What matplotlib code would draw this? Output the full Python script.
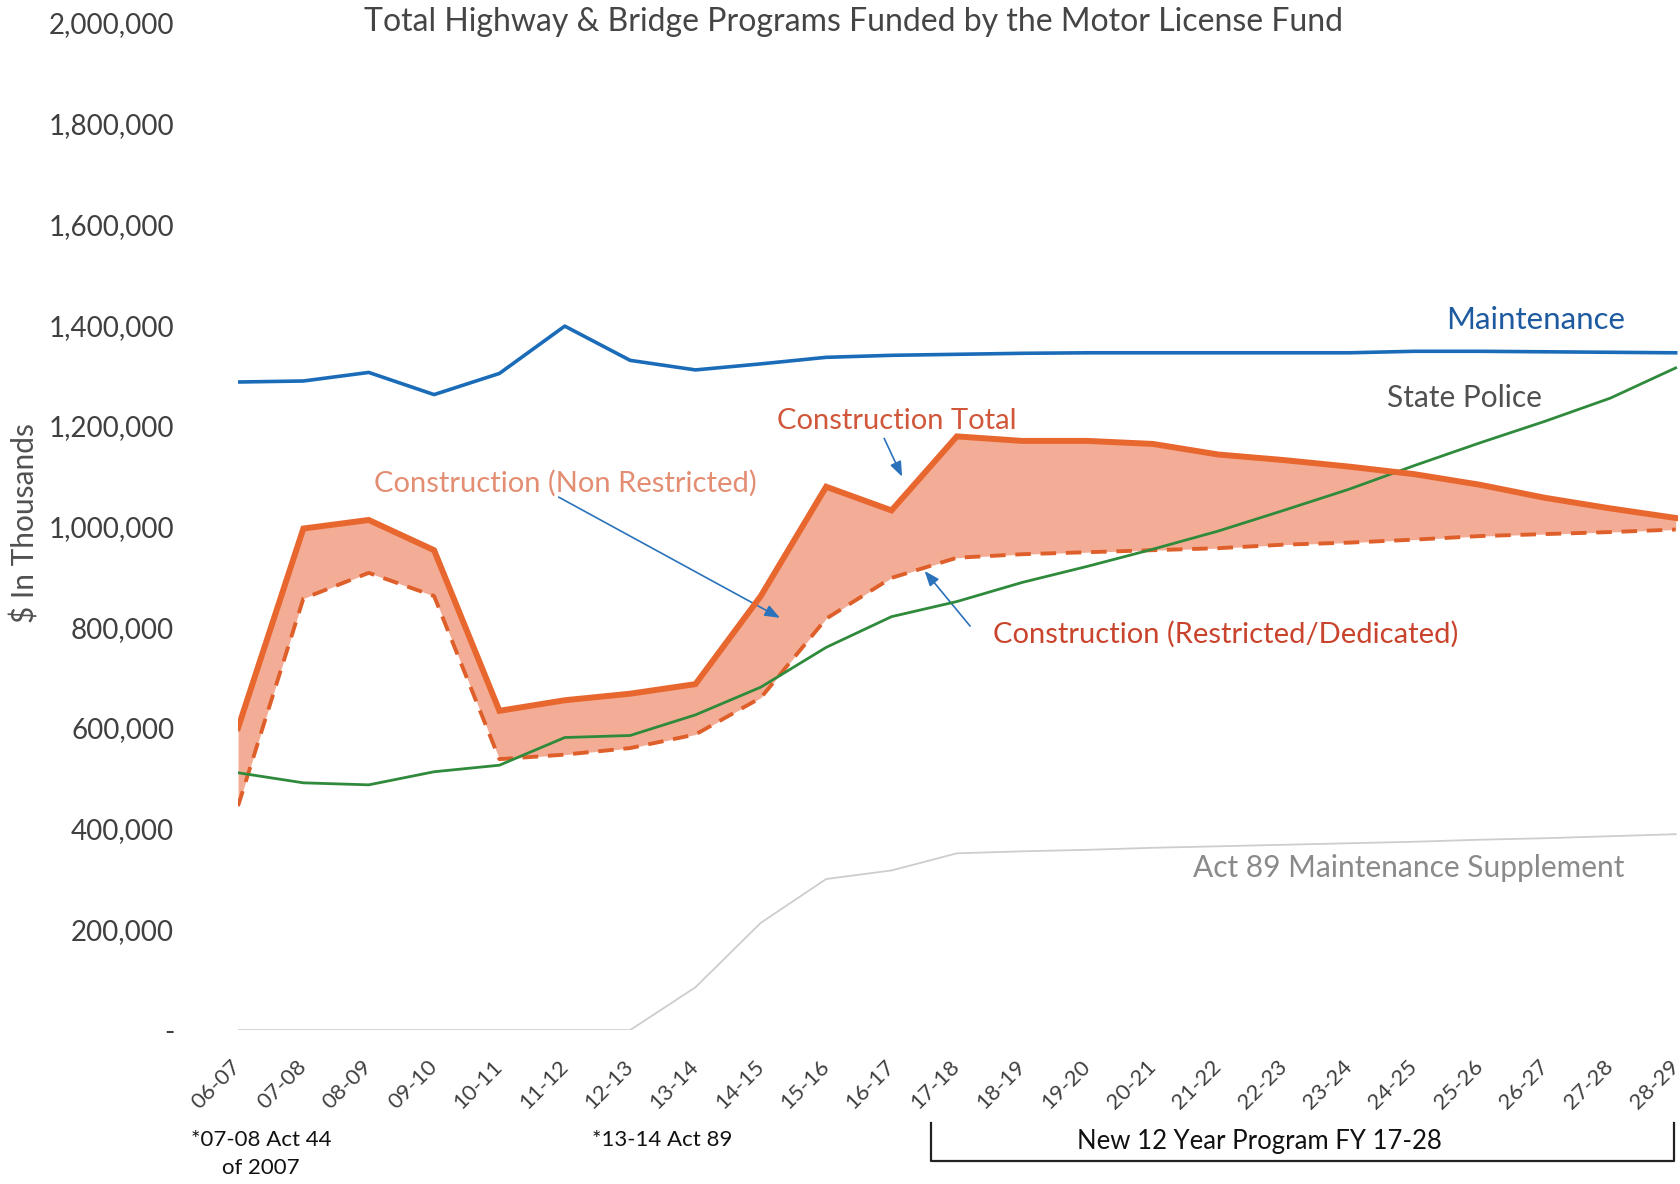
import matplotlib
matplotlib.use("Agg")
import matplotlib.pyplot as plt
import matplotlib.transforms as mtransforms
from matplotlib.ticker import FuncFormatter

plt.rcParams['font.family'] = ['Lato', 'DejaVu Sans']

years = ["06-07", "07-08", "08-09", "09-10", "10-11", "11-12", "12-13", "13-14",
         "14-15", "15-16", "16-17", "17-18", "18-19", "19-20", "20-21", "21-22",
         "22-23", "23-24", "24-25", "25-26", "26-27", "27-28", "28-29"]

maintenance = [1287000, 1289000, 1306000, 1262000, 1304000, 1398000, 1330000, 1311000,
               1323000, 1336000, 1340000, 1342000, 1344000, 1345000, 1345000, 1345000,
               1345000, 1345000, 1348000, 1348000, 1347000, 1346000, 1345000]

state_police = [511000, 491000, 487000, 513000, 526000, 581000, 585000, 626000,
                681000, 760000, 821000, 851000, 889000, 921000, 955000, 991000,
                1032000, 1074000, 1121000, 1166000, 1209000, 1255000, 1315000]

construction_total = [600000, 996000, 1013000, 953000, 634000, 655000, 668000, 687000,
                      862000, 1079000, 1032000, 1179000, 1170000, 1170000, 1164000, 1143000,
                      1132000, 1119000, 1104000, 1083000, 1057000, 1036000, 1017000]

construction_restricted = [445000, 857000, 908000, 862000, 538000, 547000, 560000, 587000,
                           660000, 817000, 898000, 938000, 945000, 949000, 953000, 957000,
                           964000, 968000, 974000, 981000, 985000, 989000, 994000]

act89 = [0, 0, 0, 0, 0, 0, 0, 85000,
         213000, 300000, 317000, 351000, 355000, 358000, 362000, 365000,
         368000, 371000, 374000, 378000, 381000, 385000, 389000]

y_ticks = [0, 200000, 400000, 600000, 800000, 1000000, 1200000, 1400000,
           1600000, 1800000, 2000000]

fig = plt.figure(figsize=(16.81, 11.84), dpi=100)
ax = fig.add_axes([0.1416, 0.130, 0.8564, 0.8506])

x = list(range(len(years)))

ax.fill_between(x, construction_restricted, construction_total,
                color="#f3a990", alpha=0.95, linewidth=0, zorder=1)
ax.plot(x, act89, color="#cdcdcd", lw=1.3, zorder=2)
ax.plot(x, construction_restricted, color="#de5f2a", lw=2.8,
        dashes=(4, 2.5), zorder=3)
ax.plot(x, state_police, color="#2f8a3c", lw=2.0, zorder=4)
ax.plot(x, construction_total, color="#e8672f", lw=4.3, zorder=5,
        solid_joinstyle='miter')
ax.plot(x, maintenance, color="#1b6cb8", lw=2.6, zorder=6)

ax.set_xlim(0, 22.03)
ax.set_ylim(0, 2000000)
for s in ax.spines.values():
    s.set_visible(False)

ax.set_yticks(y_ticks)
ax.yaxis.set_major_formatter(FuncFormatter(lambda v, p: "-" if v == 0 else f"{int(v):,}"))
ax.tick_params(axis='y', length=0, pad=46, labelsize=20, labelcolor="#404040")
ax.set_xticks(x)
ax.set_xticklabels(years, rotation=45, ha='right', va='center', rotation_mode='anchor',
                   fontsize=16, color="#404040")
ax.tick_params(axis='x', length=0, pad=24)

ax.set_ylabel("$ In Thousands", fontsize=21.5, color="#505050")
ax.yaxis.set_label_coords(-0.138, 0.503)

fig.text(0.5075, 0.981, "Total Highway & Bridge Programs Funded by the Motor License Fund",
         ha='center', va='center', fontsize=23, color="#454545")

# series labels
ax.text(21.22, 1410000, "Maintenance", ha='right', va='center', fontsize=22.5,
        color="#1d5aa0")
ax.text(19.95, 1255000, "State Police", ha='right', va='center', fontsize=21.5,
        color="#505050")
ax.text(8.25, 1209000, "Construction Total", ha='left', va='center', fontsize=21,
        color="#d1573a")
ax.text(2.08, 1086000, "Construction (Non Restricted)", ha='left', va='center',
        fontsize=21, color="#e38d72")
ax.text(11.55, 786000, "Construction (Restricted/Dedicated)", ha='left', va='center',
        fontsize=21, color="#c9442d")
ax.text(21.22, 322000, "Act 89 Maintenance Supplement", ha='right', va='center',
        fontsize=21.5, color="#8a8a8a")

arrow_kw = dict(arrowstyle="-|>,head_length=0.9,head_width=0.35", color="#2a73bb", lw=1.2)
ax.annotate("", xy=(10.18, 1094000), xytext=(9.87, 1180000), arrowprops=arrow_kw)
ax.annotate("", xy=(8.33, 816000), xytext=(4.87, 1061000), arrowprops=arrow_kw)
ax.annotate("", xy=(10.48, 916000), xytext=(11.23, 798000), arrowprops=arrow_kw)

# bottom notes
trans = mtransforms.blended_transform_factory(ax.transData, ax.transAxes)
ax.text(0.35, -0.109, "*07-08 Act 44", transform=trans, ha='center', va='center',
        fontsize=16, color="#111111")
ax.text(0.35, -0.137, "of 2007", transform=trans, ha='center', va='center',
        fontsize=16, color="#111111")
ax.text(6.49, -0.109, "*13-14 Act 89", transform=trans, ha='center', va='center',
        fontsize=16, color="#111111")
ax.plot([10.6, 10.6, 21.97, 21.97], [-0.092, -0.130, -0.130, -0.092], transform=trans,
        color="#222222", lw=1.6, clip_on=False)
ax.text(15.63, -0.111, "New 12 Year Program FY 17-28", transform=trans, ha='center',
        va='center', fontsize=18.5, color="#111111")

fig.savefig("out.png", dpi=100)
